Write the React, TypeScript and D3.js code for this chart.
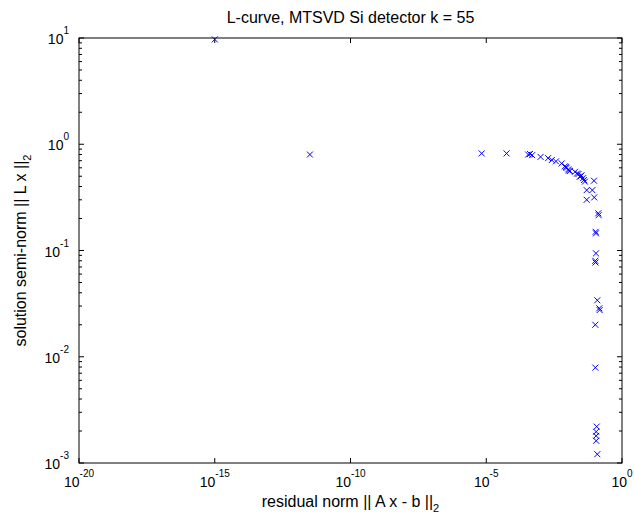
import React from "react";
import * as d3 from "d3";

const residual = [
  1e-15, 3.2e-12, 6.8e-6, 5.6e-5, 3.5e-4, 4.1e-4, 4.9e-4, 1.0e-3, 1.9e-3, 2.6e-3,
  3.7e-3, 6.0e-3, 7.9e-3, 8.5e-3, 9.1e-3, 1.05e-2, 1.1e-2, 1.2e-2, 1.85e-2, 2.2e-2,
  2.5e-2, 3.0e-2, 3.2e-2, 2.8e-2, 3.7e-2, 4.0e-2, 4.3e-2, 9.3e-2, 5.0e-2, 8.1e-2,
  5.0e-2, 9.5e-2, 0.134, 0.138, 0.107, 0.110, 0.110, 0.104, 0.106, 0.123,
  0.146, 0.150, 0.104, 0.104, 0.117, 0.112, 0.112, 0.112, 0.123,
];
const seminorm = [
  9.7, 0.8, 0.82, 0.82, 0.8, 0.81, 0.79, 0.76, 0.74, 0.71,
  0.69, 0.66, 0.62, 0.61, 0.6, 0.58, 0.565, 0.56, 0.55, 0.53,
  0.525, 0.5, 0.51, 0.495, 0.48, 0.46, 0.445, 0.454, 0.37, 0.37,
  0.3, 0.316, 0.224, 0.215, 0.15, 0.145, 0.094, 0.08, 0.077, 0.034,
  0.0286, 0.0275, 0.02, 0.0079, 0.0022, 0.00197, 0.0018, 0.00162, 0.00121,
];
const xTickExps = [-20, -15, -10, -5, 0];
const yTickExps = [-3, -2, -1, 0, 1];
const title = "L-curve, MTSVD Si detector k = 55";

const W = 635, H = 521;
const L = 79, R = 622, T = 38, B = 463;
const FONT = "'Liberation Sans', Arial, sans-serif";

export default function App() {
  const x = d3.scaleLog().domain([1e-20, 1]).range([L, R]);
  const y = d3.scaleLog().domain([1e-3, 10]).range([B, T]);
  const minor: number[] = [];
  for (let e = -3; e < 1; e++) for (let m = 2; m <= 9; m++) minor.push(m * Math.pow(10, e));
  const s = 3;
  return (
    <svg width={W} height={H} style={{ position: "absolute", left: 0, top: 0, background: "#fff" }} fontFamily={FONT}>
      <rect x={0} y={0} width={W} height={H} fill="#fff" />
      {xTickExps.map((e) => {
        const px = x(Math.pow(10, e));
        return (
          <g key={"xt" + e}>
            <line x1={px} x2={px} y1={B} y2={B - 5} stroke="#000" />
            <line x1={px} x2={px} y1={T} y2={T + 5} stroke="#000" />
            <text x={px} y={487} fontSize={14} textAnchor="middle">
              <tspan>10</tspan>
              <tspan fontSize={10} dy={-10}>{e}</tspan>
            </text>
          </g>
        );
      })}
      {yTickExps.map((e) => {
        const py = y(Math.pow(10, e));
        return (
          <g key={"yt" + e}>
            <line x1={L} x2={L + 5} y1={py} y2={py} stroke="#000" />
            <line x1={R} x2={R - 5} y1={py} y2={py} stroke="#000" />
            <text x={69} y={py + 6} fontSize={14} textAnchor="end">
              <tspan>10</tspan>
              <tspan fontSize={10} dy={-10}>{e}</tspan>
            </text>
          </g>
        );
      })}
      {minor.map((v, i) => {
        const py = y(v);
        return (
          <g key={"mn" + i}>
            <line x1={L} x2={L + 3} y1={py} y2={py} stroke="#000" />
            <line x1={R} x2={R - 3} y1={py} y2={py} stroke="#000" />
          </g>
        );
      })}
      <rect x={L} y={T} width={R - L} height={B - T} fill="none" stroke="#000" strokeWidth={1} />
      {residual.map((r, i) => {
        const px = x(r), py = y(seminorm[i]);
        return (
          <path key={"p" + i} d={`M${px - s},${py - s}L${px + s},${py + s}M${px - s},${py + s}L${px + s},${py - s}`} stroke="#0000ff" strokeWidth={1} fill="none" />
        );
      })}
      <text x={(L + R) / 2} y={23} fontSize={16} textAnchor="middle">{title}</text>
      <text x={(L + R) / 2} y={507} fontSize={16} textAnchor="middle">
        <tspan>residual norm || A x - b ||</tspan>
        <tspan fontSize={11} dy={5}>2</tspan>
      </text>
      <text transform={`translate(26,${(T + B) / 2}) rotate(-90)`} fontSize={16} textAnchor="middle">
        <tspan>solution semi-norm || L x ||</tspan>
        <tspan fontSize={11} dy={5}>2</tspan>
      </text>
    </svg>
  );
}
